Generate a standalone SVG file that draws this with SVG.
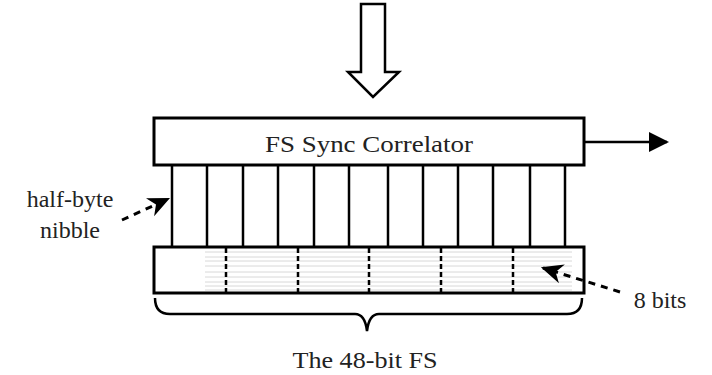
<svg xmlns="http://www.w3.org/2000/svg" width="712" height="375" viewBox="0 0 712 375">
<defs>
<style>
.box{fill:#fff;stroke:#000;stroke-width:3}
.ln{stroke:#000;stroke-width:2.5;fill:none}
.dash{stroke:#000;stroke-width:3;stroke-dasharray:7,6;fill:none}
.grid{stroke:#d8d8d8;stroke-width:1}
.txt{font-family:'Liberation Serif','Times New Roman',Tinos,Times,serif;font-size:24px;fill:#222}
</style>
<marker id="ahb" viewBox="0 0 10 10" refX="9" refY="5" markerWidth="20" markerHeight="20" markerUnits="userSpaceOnUse" orient="auto">
<path d="M0,0 L10,5 L0,10 Z" fill="#000"/>
</marker>
<marker id="ahs" viewBox="0 0 10 10" refX="9" refY="5" markerWidth="22" markerHeight="22" markerUnits="userSpaceOnUse" orient="auto">
<path d="M0,0.5 L10,5 L0,9.5 L3,5 Z" fill="#000"/>
</marker>
</defs>
<rect width="712" height="375" fill="#fff"/>
<g id="input-arrow">
<path d="M361,4 H385 V72 H399 L373,97 L348,72 H361 Z" fill="#fff" stroke="#000" stroke-width="2.5"/>
</g>
<g id="correlator">
<rect class="box" x="154" y="118" width="430" height="47"/>
<text class="txt" x="369" y="152" text-anchor="middle" textLength="208" lengthAdjust="spacingAndGlyphs">FS Sync Correlator</text>
</g>
<g id="nibbles">
<g class="ln">
<line x1="172" y1="165" x2="172" y2="247"/>
<line x1="207" y1="165" x2="207" y2="247"/>
<line x1="243" y1="165" x2="243" y2="247"/>
<line x1="278" y1="165" x2="278" y2="247"/>
<line x1="314" y1="165" x2="314" y2="247"/>
<line x1="349" y1="165" x2="349" y2="247"/>
<line x1="388" y1="165" x2="388" y2="247"/>
<line x1="423" y1="165" x2="423" y2="247"/>
<line x1="458" y1="165" x2="458" y2="247"/>
<line x1="493" y1="165" x2="493" y2="247"/>
<line x1="530" y1="165" x2="530" y2="247"/>
<line x1="565" y1="165" x2="565" y2="247"/>
</g>
</g>
<g id="fs-register">
<rect class="box" x="154" y="247" width="430" height="46"/>
<g class="grid">
<line x1="205" y1="252" x2="572" y2="252"/>
<line x1="205" y1="257" x2="572" y2="257"/>
<line x1="205" y1="261" x2="572" y2="261"/>
<line x1="205" y1="266" x2="572" y2="266"/>
<line x1="205" y1="272" x2="572" y2="272"/>
<line x1="205" y1="277" x2="572" y2="277"/>
<line x1="205" y1="282" x2="572" y2="282"/>
<line x1="205" y1="286" x2="572" y2="286"/>
<line x1="205" y1="290" x2="572" y2="290"/>
</g>
<g stroke="#000" stroke-width="2.5" stroke-dasharray="5,3">
<line x1="226" y1="248" x2="226" y2="292"/>
<line x1="298" y1="248" x2="298" y2="292"/>
<line x1="369" y1="248" x2="369" y2="292"/>
<line x1="441" y1="248" x2="441" y2="292"/>
<line x1="513" y1="248" x2="513" y2="292"/>
</g>
</g>
<g id="brace">
<path class="ln" d="M155,298 Q155,314 170,314 H355 Q365,314 367,331 Q369,314 379,314 H567 Q582,314 582,298"/>
<text class="txt" x="365" y="368" text-anchor="middle" textLength="145" lengthAdjust="spacingAndGlyphs">The 48-bit FS</text>
</g>
<g id="labels">
<text class="txt" x="70" y="207" text-anchor="middle">half-byte</text>
<text class="txt" x="70" y="238" text-anchor="middle">nibble</text>
<text class="txt" x="660" y="308" text-anchor="middle">8 bits</text>
</g>
<g id="connectors">
<line class="ln" x1="584" y1="142" x2="667" y2="142" marker-end="url(#ahb)"/>
<line class="dash" x1="122" y1="220" x2="168" y2="199" marker-end="url(#ahs)"/>
<line class="dash" x1="620" y1="292" x2="543" y2="268" marker-end="url(#ahs)"/>
</g>
</svg>
